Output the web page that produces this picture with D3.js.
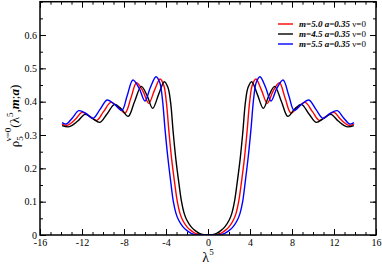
<!DOCTYPE html>
<html>
<head>
<meta charset="utf-8">
<script src="https://cdn.jsdelivr.net/npm/d3@7"></script>
<style>
body { margin: 0; background: #fff; }
text { font-family: "Liberation Serif", "DejaVu Serif", serif; }
</style>
</head>
<body>
<div class="board"></div>
<script>
// chart size and plot frame
var boardWidth = 382;
var boardHeight = 265;
var plotLeft = 40, plotRight = 376, plotTop = 1.7, plotBottom = 235;

// data
var xTicks = [-16, -12, -8, -4, 0, 4, 8, 12, 16];
var yTicks = [0, 0.1, 0.2, 0.3, 0.4, 0.5, 0.6];

var lamBlue = [-13.9, -13.5, -12.9, -12.3, -11.6, -10.95, -10.3, -9.6, -8.9, -8.2, -7.7, -7.15, -6.55, -6.0, -5.5, -4.95,
  -4.6, -4.35, -4.1, -3.85, -3.55, -3.3, -3.05, -2.8, -2.4, -2.0, -1.6, -1.2, -0.8, 0,
  0.8, 1.2, 1.6, 2.0, 2.4, 2.8, 3.05, 3.3, 3.55, 3.85, 4.1, 4.35, 4.6,
  4.95, 5.5, 6.0, 6.55, 7.15, 7.7, 8.2, 8.9, 9.6, 10.3, 10.95, 11.6, 12.3, 12.9, 13.5, 13.9];
var rhoBlue = [0.337, 0.333, 0.352, 0.373, 0.364, 0.350, 0.376, 0.405, 0.392, 0.374, 0.418, 0.465, 0.440, 0.402, 0.442, 0.475,
  0.458, 0.41, 0.32, 0.24, 0.16, 0.10, 0.065, 0.045, 0.025, 0.013, 0.005, 0.001, 0, 0,
  0, 0.001, 0.005, 0.013, 0.025, 0.045, 0.065, 0.10, 0.16, 0.24, 0.32, 0.41, 0.458,
  0.475, 0.442, 0.402, 0.440, 0.465, 0.418, 0.374, 0.392, 0.405, 0.376, 0.350, 0.364, 0.373, 0.352, 0.333, 0.337];

var lamRed = [-13.9, -13.4, -12.6, -12.0, -11.3, -10.6, -9.95, -9.25, -8.6, -7.9, -7.35, -6.8, -6.2, -5.65, -5.1, -4.57,
  -4.22, -3.97, -3.72, -3.47, -3.17, -2.92, -2.67, -2.42, -2.02, -1.62, -1.22, -0.82, -0.45, 0,
  0.45, 0.82, 1.22, 1.62, 2.02, 2.42, 2.67, 2.92, 3.17, 3.47, 3.72, 3.97, 4.22,
  4.57, 5.1, 5.65, 6.2, 6.8, 7.35, 7.9, 8.6, 9.25, 9.95, 10.6, 11.3, 12.0, 12.6, 13.4, 13.9];
var rhoRed = [0.333, 0.329, 0.348, 0.368, 0.357, 0.344, 0.370, 0.398, 0.385, 0.366, 0.410, 0.457, 0.432, 0.395, 0.434, 0.468,
  0.450, 0.40, 0.31, 0.23, 0.155, 0.10, 0.065, 0.045, 0.025, 0.013, 0.005, 0.001, 0, 0,
  0, 0.001, 0.005, 0.013, 0.025, 0.045, 0.065, 0.10, 0.155, 0.23, 0.31, 0.40, 0.450,
  0.468, 0.434, 0.395, 0.432, 0.457, 0.410, 0.366, 0.385, 0.398, 0.370, 0.344, 0.357, 0.368, 0.348, 0.329, 0.333];

var lamBlack = [-13.9, -13.2, -12.4, -11.7, -11.0, -10.3, -9.6, -8.9, -8.25, -7.6, -7.0, -6.35, -5.8, -5.27, -4.7, -4.16,
  -3.82, -3.57, -3.32, -3.07, -2.77, -2.52, -2.27, -2.02, -1.62, -1.22, -0.82, -0.42, -0.1, 0,
  0.1, 0.42, 0.82, 1.22, 1.62, 2.02, 2.27, 2.52, 2.77, 3.07, 3.32, 3.57, 3.82,
  4.16, 4.7, 5.27, 5.8, 6.35, 7.0, 7.6, 8.25, 8.9, 9.6, 10.3, 11.0, 11.7, 12.4, 13.2, 13.9];
var rhoBlack = [0.328, 0.325, 0.342, 0.362, 0.350, 0.338, 0.364, 0.392, 0.378, 0.356, 0.400, 0.446, 0.418, 0.380, 0.422, 0.460,
  0.443, 0.40, 0.31, 0.23, 0.155, 0.10, 0.065, 0.045, 0.025, 0.013, 0.005, 0.001, 0, 0,
  0, 0.001, 0.005, 0.013, 0.025, 0.045, 0.065, 0.10, 0.155, 0.23, 0.31, 0.40, 0.443,
  0.460, 0.422, 0.380, 0.418, 0.446, 0.400, 0.356, 0.378, 0.392, 0.364, 0.338, 0.350, 0.362, 0.342, 0.325, 0.328];

var seriesNames = ['5.0', '4.5', '5.5'];
var seriesColors = ['#ff0000', '#000000', '#0000ff'];
var seriesLam = [lamRed, lamBlack, lamBlue];
var seriesRho = [rhoRed, rhoBlack, rhoBlue];

var svg = d3.select('.board')
            .append('svg')
            .attr('width', boardWidth)
            .attr('height', boardHeight);

var x = d3.scaleLinear().domain([-16, 16]).range([plotLeft, plotRight]);
var y = d3.scaleLinear().domain([0, 0.7]).range([plotBottom, plotTop]);

var line = d3.line()
             .x(function(d) { return x(d[0]); })
             .y(function(d) { return y(d[1]); })
             .curve(d3.curveCatmullRom.alpha(0.5));

svg.append('clipPath').attr('id', 'clip')
   .append('rect')
   .attr('x', plotLeft).attr('y', plotTop)
   .attr('width', plotRight - plotLeft).attr('height', plotBottom - plotTop);

var curves = svg.append('g').attr('clip-path', 'url(#clip)');
seriesLam.forEach(function(lams, i) {
  var pts = lams.map(function(l, j) { return [l, seriesRho[i][j]]; });
  curves.append('path')
        .attr('d', line(pts))
        .attr('fill', 'none')
        .attr('stroke', seriesColors[i])
        .attr('stroke-width', 1.4);
});

// axes with inward ticks on all four sides
var xMinor = d3.range(-16, 17, 1);
var yMinor = d3.range(0, 0.701, 0.05);

function addAxis(axis, tx, ty) {
  var g = svg.append('g').attr('transform', 'translate(' + tx + ',' + ty + ')').call(axis);
  g.select('.domain').remove();
  g.selectAll('line').attr('stroke', '#000').attr('stroke-width', 1);
  return g;
}

addAxis(d3.axisBottom(x).tickValues(xMinor).tickSize(-3).tickFormat(''), 0, plotBottom);
addAxis(d3.axisTop(x).tickValues(xMinor).tickSize(-3).tickFormat(''), 0, plotTop);
addAxis(d3.axisLeft(y).tickValues(yMinor).tickSize(-3).tickFormat(''), plotLeft, 0);
addAxis(d3.axisRight(y).tickValues(yMinor).tickSize(-3).tickFormat(''), plotRight, 0);
addAxis(d3.axisTop(x).tickValues(xTicks).tickSize(-6).tickFormat(''), 0, plotTop);
addAxis(d3.axisRight(y).tickValues(yTicks).tickSize(-6).tickFormat(''), plotRight, 0);

var gx = addAxis(d3.axisBottom(x).tickValues(xTicks).tickSize(-6).tickPadding(4)
                   .tickFormat(function(d) { return String(d); }), 0, plotBottom);
gx.selectAll('text').attr('font-size', 10).attr('font-family', 'Liberation Serif').attr('fill', '#000');

var gy = addAxis(d3.axisLeft(y).tickValues(yTicks).tickSize(-6).tickPadding(3)
                   .tickFormat(function(d) { return d === 0 ? '0' : d3.format('.1f')(d); }), plotLeft, 0);
gy.selectAll('text').attr('font-size', 10).attr('font-family', 'Liberation Serif').attr('fill', '#000');

svg.append('rect')
   .attr('x', plotLeft).attr('y', plotTop)
   .attr('width', plotRight - plotLeft).attr('height', plotBottom - plotTop)
   .attr('fill', 'none').attr('stroke', '#000').attr('stroke-width', 1.5);

// x axis title
var xt = svg.append('text').attr('x', 208).attr('y', 262).attr('text-anchor', 'middle').attr('font-size', 14);
xt.append('tspan').text('λ');
xt.append('tspan').attr('dy', -7).attr('font-size', 9).text('5');

// y axis title
var yt = svg.append('text')
            .attr('transform', 'translate(19,116) rotate(-90)')
            .attr('text-anchor', 'middle')
            .attr('font-size', 13);
yt.append('tspan').text('ρ');
yt.append('tspan').attr('dy', 4).attr('font-size', 9).text('5');
yt.append('tspan').attr('dy', -12).attr('dx', -5).attr('font-size', 9).text('ν=0');
yt.append('tspan').attr('dy', 8).text('(λ');
yt.append('tspan').attr('dy', -6).attr('font-size', 9).text('5');
yt.append('tspan').attr('dy', 6).text(',');
yt.append('tspan').attr('font-weight', 'bold').attr('font-style', 'italic').text('m');
yt.append('tspan').text(';');
yt.append('tspan').attr('font-weight', 'bold').attr('font-style', 'italic').text('a');
yt.append('tspan').text(')');

// legend
var legend = svg.append('g');
seriesNames.forEach(function(name, i) {
  var ly = 24 + i * 10;
  legend.append('line')
        .attr('x1', 278).attr('x2', 293).attr('y1', ly).attr('y2', ly)
        .attr('stroke', seriesColors[i]).attr('stroke-width', 1.4);
  var t = legend.append('text').attr('x', 299).attr('y', ly + 3).attr('font-size', 9);
  t.append('tspan').attr('font-weight', 'bold').attr('font-style', 'italic').text('m=' + name + ' a=0.35');
  t.append('tspan').text(' ν=0');
});
</script>
</body>
</html>
